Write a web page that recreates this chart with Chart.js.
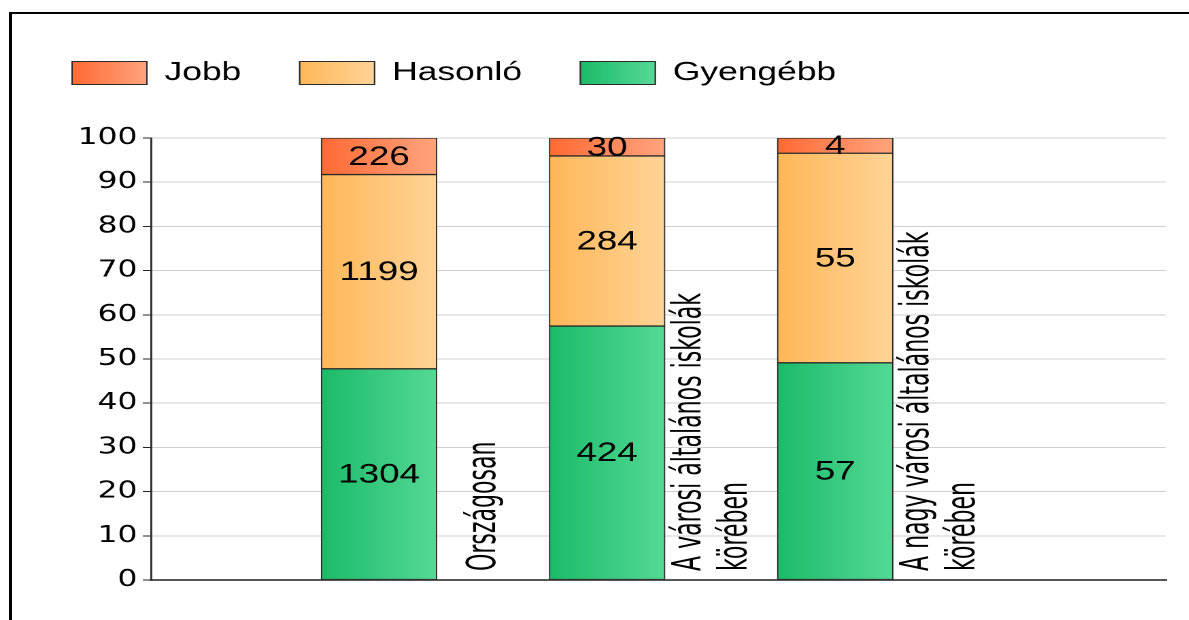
<!DOCTYPE html>
<html><head><meta charset="utf-8">
<script src="https://cdn.jsdelivr.net/npm/chart.js@4.4.1/dist/chart.umd.min.js"></script>
<style>
html,body{margin:0;padding:0;background:#fff;width:1189px;height:620px;overflow:hidden;position:relative;}
#frame{position:absolute;left:9px;top:12px;width:1300px;height:700px;border-left:3px solid #000;border-top:2px solid #000;box-sizing:border-box;}
#wrap{position:absolute;left:0;top:0;width:874.26px;height:620px;transform:scaleX(1.36);transform-origin:0 0;}
</style></head><body>
<div id="frame"></div>
<div id="wrap"><canvas id="c"></canvas></div>
<script>
// ---- data ----
const categories = [
  ['Országosan'],
  ['A városi általános iskolák', 'körében'],
  ['A nagy városi általános iskolák', 'körében']
];
const categoryIndex = [1, 2, 3];
const seriesNames = ['Jobb', 'Hasonló', 'Gyengébb'];
const jobb = [226, 30, 4];
const hasonlo = [1199, 284, 55];
const gyengebb = [1304, 424, 57];
const yTickValues = [0, 10, 20, 30, 40, 50, 60, 70, 80, 90, 100];

// ---- styles ----
const gradStops = {
  'Jobb': ['#ff6a33', '#ffa47e'],
  'Hasonló': ['#ffb758', '#ffd497'],
  'Gyengébb': ['#1bbb69', '#55d995']
};
const BAR_W = 85;
const LEGEND_BOX_W = 55, LEGEND_BOX_H = 23, LEGEND_FONT = 26;

const totals = jobb.map((v, i) => v + hasonlo[i] + gyengebb[i]);
const toPoints = arr => arr.map((v, i) => ({ x: categoryIndex[i], y: v / totals[i] * 100 }));
const counts = { 'Jobb': jobb, 'Hasonló': hasonlo, 'Gyengébb': gyengebb };

function barGradient(stops) {
  return (ctx) => {
    const chart = ctx.chart;
    const xs = chart.scales && chart.scales.x;
    if (!chart.chartArea || !xs || ctx.type !== 'data' || !ctx.raw) return stops[0];
    const px = xs.getPixelForValue(ctx.raw.x);
    const g = chart.ctx.createLinearGradient(px - BAR_W / 2, 0, px + BAR_W / 2, 0);
    g.addColorStop(0, stops[0]);
    g.addColorStop(1, stops[1]);
    return g;
  };
}

function makeDataset(name, arr) {
  return {
    label: name,
    data: toPoints(arr),
    backgroundColor: barGradient(gradStops[name]),
    borderColor: '#2a2a2a',
    borderWidth: 1,
    borderSkipped: false,
    barThickness: BAR_W
  };
}

const legendGradient = {
  id: 'legendGradient',
  afterDraw(chart) {
    const lg = chart.legend;
    if (!lg || !lg.legendHitBoxes || !lg.legendItems) return;
    const c = chart.ctx;
    c.save();
    lg.legendItems.forEach((it, i) => {
      const hb = lg.legendHitBoxes[i];
      if (!hb) return;
      const st = gradStops[it.text];
      const x = hb.left;
      const y = hb.top + Math.max((LEGEND_FONT - LEGEND_BOX_H) / 2, 0);
      const g = c.createLinearGradient(x, 0, x + LEGEND_BOX_W, 0);
      g.addColorStop(0, st[0]); g.addColorStop(1, st[1]);
      c.fillStyle = g;
      c.fillRect(x, y, LEGEND_BOX_W, LEGEND_BOX_H);
      c.lineWidth = 1;
      c.strokeStyle = '#2a2a2a';
      c.strokeRect(x, y, LEGEND_BOX_W, LEGEND_BOX_H);
    });
    c.restore();
  }
};

const valueLabels = {
  id: 'valueLabels',
  afterDatasetsDraw(chart) {
    const c = chart.ctx;
    c.save();
    c.font = '27px "Liberation Sans", Arial, sans-serif';
    c.fillStyle = '#000';
    c.textAlign = 'center';
    c.textBaseline = 'middle';
    chart.data.datasets.forEach((ds, di) => {
      const meta = chart.getDatasetMeta(di);
      meta.data.forEach((el, j) => {
        const p = el.getProps(['x', 'y', 'base'], true);
        c.fillText(String(counts[ds.label][j]), p.x, (p.y + p.base) / 2 + 1);
      });
    });
    c.restore();
  }
};

const categoryLabels = {
  id: 'categoryLabels',
  afterDraw(chart) {
    const xs = chart.scales.x, area = chart.chartArea;
    const c = chart.ctx;
    const lineH = 34, offset = 78;
    c.save();
    c.font = '29px "Liberation Sans Narrow", "Arial Narrow", "DejaVu Sans Condensed", sans-serif';
    c.fillStyle = '#000';
    c.textAlign = 'left';
    c.textBaseline = 'middle';
    categories.forEach((lines, i) => {
      const cx = xs.getPixelForValue(categoryIndex[i]) + offset;
      c.save();
      c.translate(cx, area.bottom - 9);
      c.rotate(-Math.PI / 2);
      c.scale(0.845, 1);
      lines.forEach((ln, k) => {
        c.fillText(ln, 0, (k - (lines.length - 1) / 2) * lineH);
      });
      c.restore();
    });
    c.restore();
  }
};

Chart.defaults.font.family = '"Liberation Sans", Arial, sans-serif';
Chart.defaults.color = '#000';

new Chart(document.getElementById('c'), {
  type: 'bar',
  data: {
    datasets: [
      makeDataset('Gyengébb', gyengebb),
      makeDataset('Hasonló', hasonlo),
      makeDataset('Jobb', jobb)
    ]
  },
  options: {
    responsive: true,
    maintainAspectRatio: false,
    animation: false,
    devicePixelRatio: 2,
    layout: { padding: { left: 10, right: 17, top: 17, bottom: 32 } },
    plugins: {
      legend: {
        position: 'top',
        align: 'start',
        reverse: true,
        labels: {
          boxWidth: LEGEND_BOX_W,
          boxHeight: LEGEND_BOX_H,
          padding: 43,
          color: '#000',
          font: { size: LEGEND_FONT, family: '"Liberation Sans", Arial, sans-serif' }
        }
      },
      title: {
        display: true,
        text: '',
        weight: 500,
        font: { size: 10 },
        padding: { top: 0, bottom: 30 }
      },
      tooltip: { enabled: false }
    },
    scales: {
      x: {
        type: 'linear',
        stacked: true,
        offset: false,
        min: 0,
        max: 4.45,
        ticks: { display: false },
        grid: { display: false },
        border: { display: true, color: '#555', width: 2 }
      },
      y: {
        stacked: true,
        min: 0,
        max: 100,
        afterBuildTicks: s => { s.ticks = yTickValues.map(v => ({ value: v })); },
        afterFit: s => { s.width = 101; },
        ticks: {
          color: '#000',
          padding: 4,
          font: { family: '"DejaVu Sans", sans-serif', size: 23 }
        },
        grid: { color: '#cfcfcf', lineWidth: 1, tickLength: 6, tickColor: '#222' },
        border: { color: '#333', width: 1.5 }
      }
    }
  },
  plugins: [valueLabels, categoryLabels, legendGradient]
});
</script>
</body></html>
